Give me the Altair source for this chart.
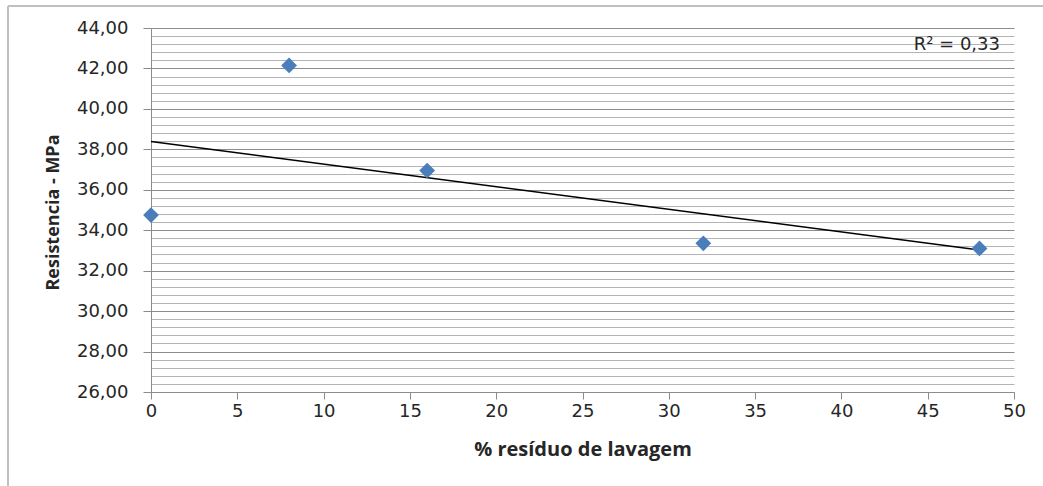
import altair as alt
import pandas as pd
import numpy as np

# Data
residuo = [0, 8, 16, 32, 48]
resistencia = [34.75, 42.15, 36.95, 33.35, 33.10]
y_ticks = [round(26 + 0.4 * k, 1) for k in range(46)]
x_ticks = [0, 5, 10, 15, 20, 25, 30, 35, 40, 45, 50]

df = pd.DataFrame({"x": residuo, "y": resistencia})
r = np.corrcoef(residuo, resistencia)[0, 1]
r2_label = "R² = " + f"{r * r:.2f}".replace(".", ",")

LFONT = "DejaVu Sans"
TFONT = "Open Sans"
W, H = 863, 364

is_major = "abs(datum.value/2 - round(datum.value/2)) < 0.001"

x_enc = alt.X(
    "x:Q",
    scale=alt.Scale(domain=[0, 50], nice=False, zero=False),
    axis=alt.Axis(
        values=x_ticks, title="% resíduo de lavagem", grid=False,
        domainColor="#8c8c8c", tickColor="#8c8c8c", tickSize=7,
        labelFont=LFONT, labelFontSize=18, labelColor="#262626", labelPadding=3,
        labelFlush=False,
        titleFont=TFONT, titleFontSize=20, titleFontWeight="bold", titleColor="#262626",
        titleX=W / 2, titleY=57, titleBaseline="middle", titleAlign="center",
    ),
)
y_enc = alt.Y(
    "y:Q",
    scale=alt.Scale(domain=[26, 44], nice=False, zero=False),
    axis=alt.Axis(
        values=y_ticks, title="Resistencia - MPa",
        labelExpr=f"{is_major} ? replace(format(datum.value, '.2f'), '.', ',') : ''",
        grid=True,
        gridColor={"condition": {"test": is_major, "value": "#8c8c8c"}, "value": "#b4b4b4"},
        gridWidth=1,
        domainColor="#8c8c8c",
        tickColor="#8c8c8c", tickSize=8,
        tickOpacity={"condition": {"test": is_major, "value": 1}, "value": 0},
        labelFont=LFONT, labelFontSize=18, labelColor="#262626", labelPadding=15,
        labelFlush=False,
        titleFont=TFONT, titleFontSize=18, titleFontWeight="bold", titleColor="#262626",
        titleX=-98, titleY=H / 2 + 2, titleAngle=-90, titleBaseline="middle",
        titleAlign="center",
    ),
)

base = alt.Chart(df)

trend = base.mark_line(color="#000000", strokeWidth=1.5).transform_regression(
    "x", "y"
).encode(x=x_enc, y=y_enc)

points = base.mark_point(
    shape="diamond", filled=True, size=250, color="#4a7ebb", opacity=1
).encode(x=x_enc, y=y_enc)

r2_text = alt.Chart(alt.Data(values=[{"t": r2_label}])).mark_text(
    align="right", baseline="middle", font=LFONT, fontSize=18, color="#262626"
).encode(x=alt.value(849), y=alt.value(17), text="t:N")

border_top = alt.Chart(alt.Data(values=[{}])).mark_rule(
    color="#c0c0c0", strokeWidth=2
).encode(x=alt.value(-143), x2=alt.value(900), y=alt.value(-22))
border_left = alt.Chart(alt.Data(values=[{}])).mark_rule(
    color="#c0c0c0", strokeWidth=2
).encode(x=alt.value(-143), y=alt.value(-22), y2=alt.value(470))

chart = alt.layer(border_top, border_left, trend, points, r2_text).properties(
    width=W, height=H,
    autosize=alt.AutoSizeParams(type="none"),
    padding={"left": 151, "top": 28, "right": 29, "bottom": 94},
    background="white",
).configure_view(stroke=None)

chart.save("out.html", embed_options={"renderer": "svg", "actions": False})
